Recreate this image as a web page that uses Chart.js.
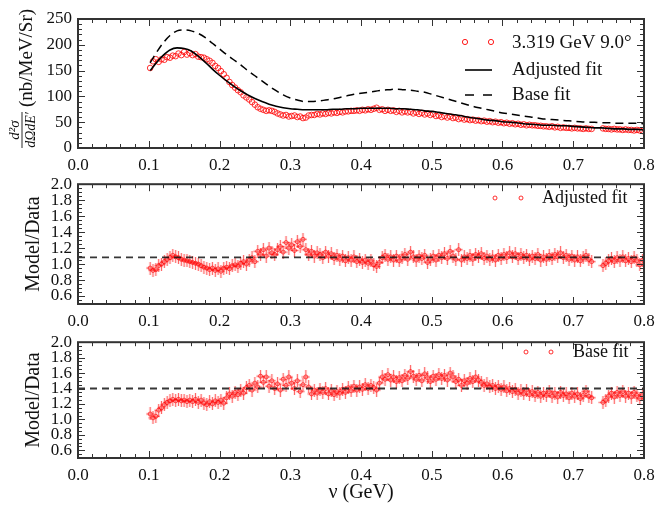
<!DOCTYPE html>
<html><head><meta charset="utf-8">
<script src="https://cdn.jsdelivr.net/npm/chart.js@4.4.1/dist/chart.umd.min.js"></script>
<style>
html,body{margin:0;padding:0;background:#fff;width:664px;height:517px;overflow:hidden;position:relative;}
canvas{position:absolute;left:0;}
</style></head><body>
<canvas id="c1" width="664" height="175" style="top:0px"></canvas>
<canvas id="c2" width="664" height="158" style="top:168px"></canvas>
<canvas id="c3" width="664" height="191" style="top:326px"></canvas>
<script>
// ---------- data ----------
const nu = [
0.102,0.106,0.110,0.114,0.118,0.122,0.126,0.130,0.134,0.138,
0.142,0.146,0.150,0.154,0.158,0.162,0.166,0.170,0.174,0.178,
0.182,0.186,0.190,0.194,0.198,0.202,0.206,0.210,0.214,0.218,
0.222,0.226,0.230,0.234,0.238,0.242,0.246,0.250,0.254,0.258,
0.262,0.266,0.270,0.274,0.278,0.282,0.286,0.290,0.294,0.298,
0.302,0.306,0.310,0.314,0.318,0.322,0.326,0.330,0.334,0.338,
0.342,0.346,0.350,0.354,0.358,0.362,0.366,0.370,0.374,0.378,
0.382,0.386,0.390,0.394,0.398,0.402,0.406,0.410,0.414,0.418,
0.422,0.426,0.430,0.434,0.438,0.442,0.446,0.450,0.454,0.458,
0.462,0.466,0.470,0.474,0.478,0.482,0.486,0.490,0.494,0.498,
0.502,0.506,0.510,0.514,0.518,0.522,0.526,0.530,0.534,0.538,
0.542,0.546,0.550,0.554,0.558,0.562,0.566,0.570,0.574,0.578,
0.582,0.586,0.590,0.594,0.598,0.602,0.606,0.610,0.614,0.618,
0.622,0.626,0.630,0.634,0.638,0.642,0.646,0.650,0.654,0.658,
0.662,0.666,0.670,0.674,0.678,0.682,0.686,0.690,0.694,0.698,
0.702,0.706,0.710,0.714,0.718,0.722,0.726,
0.742,0.746,0.750,0.754,0.758,0.762,0.766,0.770,0.774,0.778,
0.782,0.786,0.790,0.794,0.798];

const crossSection = [
155,168,172,167,172,171,176,175,179,178,
183,180,186,181,184,180,182,177,176,175,
172,169,165,159,155,149,143,136,128,122,
117,112,108,102,98,94,89,84,79,76,
74,72,73,72,70,67,65,63,64,61,
62,63,60,61,58,59,63,64,64,66,
65,67,66,68,67,69,68,70,69,71,
71,72,72,73,72,74,73,75,74,76,
78,74,75,72,74,72,73,70,72,69,
71,69,70,67,69,66,68,65,67,64,
66,62,63,60,62,59,61,58,59,56,
58,55,56,54,55,53,54,52,53,51,
52,50,51,49,50,48,49,47,48,46,
47,45,46,44,45,44,44,43,43,42,
42,41,42,40,41,39,40,39,39,38,
39,38,38,37,38,37,37,
38,37,37,36,37,36,36,35,36,35,
35,34,35,34,33];

const ratioAdjusted = [
0.95,0.92,0.93,0.98,1.00,1.03,1.06,1.08,1.11,1.09,
1.08,1.06,1.05,1.04,1.03,1.02,1.01,1.00,0.98,0.96,
0.95,0.93,0.95,0.92,0.94,0.91,0.95,0.96,0.94,0.98,
0.99,0.97,1.01,1.03,1.00,1.05,1.08,1.03,1.16,1.12,
1.18,1.10,1.20,1.14,1.12,1.18,1.22,1.15,1.27,1.20,
1.24,1.17,1.28,1.22,1.31,1.18,1.12,1.16,1.10,1.14,
1.12,1.08,1.15,1.10,1.13,1.07,1.11,1.06,1.10,1.04,
1.08,1.05,1.09,1.03,1.06,1.02,1.05,1.01,1.04,0.99,
0.97,1.02,1.08,1.11,1.06,1.09,1.05,1.10,1.04,1.08,
1.12,1.06,1.15,1.09,1.05,1.10,1.07,1.11,1.02,1.06,
1.10,1.05,1.11,1.08,1.13,1.07,1.16,1.10,1.06,1.18,
1.05,1.09,1.07,1.11,1.06,1.12,1.09,1.13,1.07,1.10,
1.06,1.09,1.05,1.11,1.07,1.12,1.08,1.14,1.09,1.13,
1.07,1.12,1.08,1.11,1.06,1.10,1.07,1.12,1.05,1.09,
1.06,1.11,1.07,1.12,1.09,1.14,1.08,1.11,1.06,1.10,
1.05,1.09,1.04,1.08,1.11,1.06,1.03,
0.98,1.01,1.04,1.07,1.03,1.08,1.05,1.09,1.04,1.07,
1.03,1.08,1.04,0.99,1.05];

const ratioBase = [
1.07,1.02,1.04,1.12,1.15,1.19,1.22,1.24,1.26,1.24,
1.26,1.24,1.25,1.23,1.25,1.23,1.26,1.22,1.25,1.21,
1.19,1.23,1.20,1.24,1.22,1.25,1.21,1.28,1.33,1.30,
1.35,1.32,1.38,1.34,1.41,1.44,1.38,1.47,1.42,1.56,
1.48,1.55,1.43,1.50,1.40,1.46,1.38,1.52,1.44,1.55,
1.47,1.40,1.50,1.36,1.45,1.55,1.42,1.33,1.38,1.34,
1.39,1.35,1.40,1.33,1.37,1.32,1.36,1.34,1.39,1.35,
1.41,1.37,1.43,1.38,1.42,1.39,1.45,1.40,1.44,1.41,
1.38,1.47,1.55,1.52,1.58,1.51,1.55,1.49,1.54,1.50,
1.57,1.53,1.62,1.56,1.52,1.57,1.50,1.59,1.54,1.49,
1.56,1.52,1.58,1.53,1.57,1.51,1.60,1.55,1.49,1.52,
1.44,1.50,1.47,1.53,1.49,1.55,1.51,1.48,1.44,1.46,
1.42,1.44,1.40,1.43,1.39,1.42,1.37,1.40,1.36,1.39,
1.34,1.37,1.33,1.38,1.32,1.36,1.31,1.35,1.30,1.34,
1.31,1.36,1.30,1.34,1.29,1.35,1.31,1.33,1.28,1.34,
1.30,1.33,1.27,1.31,1.36,1.30,1.28,
1.22,1.25,1.30,1.34,1.29,1.35,1.31,1.36,1.30,1.34,
1.29,1.35,1.31,1.27,1.32];

const fitNu = [
0.102,0.11,0.12,0.13,0.14,0.15,0.16,0.17,0.18,0.19,
0.20,0.21,0.22,0.23,0.24,0.25,0.26,0.27,0.28,0.29,
0.30,0.31,0.32,0.33,0.34,0.35,0.36,0.37,0.38,0.39,
0.40,0.41,0.42,0.43,0.44,0.45,0.46,0.47,0.48,0.49,
0.50,0.51,0.52,0.53,0.54,0.55,0.56,0.57,0.58,0.59,
0.60,0.61,0.62,0.63,0.64,0.65,0.66,0.67,0.68,0.69,
0.70,0.71,0.72,0.73,0.74,0.75,0.76,0.77,0.78,0.79,0.80];

const adjustedFit = [
150,164,179,190,194,193,188,178,166,153,
141,130,120,111,103,96,90,85,81,78,
76,75,74,74,74,74,75,75,76,76,
77,77,77,77,77,76,76,75,74,72,
71,69,67,65,63,60,58,56,54,53,
51,50,49,47,46,45,44,44,43,43,
42,41,40,39,39,38,37,37,36,36,35];

const baseFit = [
165,183,203,218,227,229,227,222,214,203,
192,181,171,161,150,140,130,120,111,103,
97,93,90,90,91,93,95,98,101,104,
106,108,110,112,113,114,113,112,110,108,
104,100,96,92,88,84,80,77,74,71,
68,66,64,62,60,58,56,55,54,53,
52,51,50,50,49,49,48,48,48,48,47];

const meanRatioAdjusted = 1.085;
const meanRatioBase = 1.40;

const xTicks = [0.0,0.1,0.2,0.3,0.4,0.5,0.6,0.7,0.8];
const yTicksTop = [0,50,100,150,200,250];
const yTicksRatio = [0.6,0.8,1.0,1.2,1.4,1.6,1.8,2.0];

const legendTop = ['3.319 GeV 9.0°','Adjusted fit','Base fit'];
const legendMid = 'Adjusted fit';
const legendBot = 'Base fit';

// ---------- styling ----------
const SERIF = "'Liberation Serif','DejaVu Serif','Times New Roman',serif";
Chart.defaults.font.family = SERIF;
Chart.defaults.color = '#111';
const RED = 'rgba(255,0,0,0.9)';

// error-bar style marker: taller vertical bar than horizontal one
const errMark = (() => {
  const c = document.createElement('canvas');
  c.width = 9; c.height = 13;
  const g = c.getContext('2d');
  g.strokeStyle = 'rgba(255,0,0,0.6)';
  g.lineWidth = 1.3;
  g.beginPath();
  g.moveTo(4.5, 0); g.lineTo(4.5, 13);
  g.moveTo(0.5, 6.5); g.lineTo(8.5, 6.5);
  g.stroke();
  return c;
})();

const framePlugin = {
  id: 'frame',
  afterDraw(chart, args, o) {
    const {ctx, chartArea: a, scales: {x, y}} = chart;
    ctx.save();
    ctx.strokeStyle = '#333';
    ctx.lineWidth = 1;
    for (let k = 0; k <= 40; k++) {
      const v = k * 0.02;
      const major = k % 5 === 0;
      const len = major ? 7 : 4;
      const px = Math.round(x.getPixelForValue(v)) + 0.5;
      ctx.beginPath();
      ctx.moveTo(px, a.bottom); ctx.lineTo(px, a.bottom - len);
      ctx.moveTo(px, a.top); ctx.lineTo(px, a.top + len);
      ctx.stroke();
    }
    const n = Math.round((o.yMax - o.yMin) / o.yMinor);
    for (let k = 0; k <= n; k++) {
      const v = o.yMin + k * o.yMinor;
      const r = (v - o.yMajorBase) / o.yMajor;
      const major = Math.abs(r - Math.round(r)) < 1e-6;
      const len = major ? 7 : 4;
      const py = Math.round(y.getPixelForValue(v)) + 0.5;
      ctx.beginPath();
      ctx.moveTo(a.left, py); ctx.lineTo(a.left + len, py);
      ctx.moveTo(a.right, py); ctx.lineTo(a.right - len, py);
      ctx.stroke();
    }
    ctx.lineWidth = 2;
    ctx.strokeStyle = '#333';
    ctx.strokeRect(a.left, a.top, a.right - a.left, a.bottom - a.top);
    ctx.restore();
    if (o.legend) o.legend(ctx);
  }
};

function xScale(height, withTitle) {
  return {
    type: 'linear', min: 0, max: 0.8,
    afterBuildTicks: ax => { ax.ticks = xTicks.map(v => ({value: v})); },
    afterFit: ax => { ax.height = height; },
    grid: {display: false, drawTicks: false},
    border: {display: false},
    ticks: {padding: 7, autoSkip: false, maxRotation: 0, minRotation: 0,
            font: {size: 17}, color: '#111', callback: v => Number(v).toFixed(1)},
    title: withTitle ? {display: true, text: 'ν (GeV)', font: {size: 20}, color: '#111',
                        padding: {top: 0, bottom: 12}} : {display: false}
  };
}

function yScale(min, max, ticks, fmt, title) {
  return {
    type: 'linear', min: min, max: max,
    afterBuildTicks: ax => { ax.ticks = ticks.map(v => ({value: v})); },
    afterFit: ax => { ax.width = 78; },
    grid: {display: false, drawTicks: false},
    border: {display: false},
    ticks: {padding: 6, autoSkip: false, font: {size: 17}, color: '#111', callback: fmt},
    title: title ? {display: true, text: title, font: {size: 20}, color: '#111',
                    padding: {top: 22, bottom: 0}} : {display: false}
  };
}

function pts(xs, ys) { return xs.map((x, i) => ({x: x, y: ys[i]})); }

// ---------- panel 1 ----------
new Chart(document.getElementById('c1'), {
  type: 'scatter',
  data: {datasets: [
    {label: legendTop[0], data: pts(nu, crossSection), pointStyle: 'circle', pointRadius: 2.8,
     borderColor: 'rgba(255,0,0,0.8)', backgroundColor: 'rgba(0,0,0,0)', pointBorderWidth: 1, order: 3},
    {type: 'line', label: legendTop[1], data: pts(fitNu, adjustedFit), borderColor: '#000',
     borderWidth: 1.6, pointRadius: 0, cubicInterpolationMode: 'monotone', fill: false, order: 1},
    {type: 'line', label: legendTop[2], data: pts(fitNu, baseFit), borderColor: '#000',
     borderWidth: 1.5, borderDash: [8, 5], pointRadius: 0, cubicInterpolationMode: 'monotone', fill: false, order: 2}
  ]},
  options: {
    responsive: false, animation: false, events: [],
    layout: {padding: {top: 19, right: 20, left: 0, bottom: 0}},
    plugins: {
      legend: {display: false}, tooltip: {enabled: false},
      frame: {yMin: 0, yMax: 250, yMinor: 10, yMajor: 50, yMajorBase: 0,
        legend: ctx => {
          ctx.save();
          ctx.strokeStyle = RED; ctx.lineWidth = 1;
          [465, 491].forEach(cx => { ctx.beginPath(); ctx.arc(cx, 42, 2.6, 0, Math.PI * 2); ctx.stroke(); });
          ctx.strokeStyle = '#000'; ctx.lineWidth = 1.6;
          ctx.beginPath(); ctx.moveTo(465, 70); ctx.lineTo(492, 70); ctx.stroke();
          ctx.lineWidth = 1.5;
          ctx.beginPath(); ctx.moveTo(465, 95); ctx.lineTo(474, 95); ctx.moveTo(483, 95); ctx.lineTo(492, 95); ctx.stroke();
          ctx.fillStyle = '#111'; ctx.font = '19px ' + SERIF; ctx.textBaseline = 'middle'; ctx.textAlign = 'left';
          ctx.fillText(legendTop[0], 512, 43);
          ctx.fillText(legendTop[1], 512, 70);
          ctx.fillText(legendTop[2], 512, 95);
          // y-axis title
          ctx.translate(27, 58); ctx.rotate(-Math.PI / 2);
          ctx.textAlign = 'center'; ctx.font = '19px ' + SERIF;
          ctx.fillText('(nb/MeV/Sr)', 0, 0);
          ctx.setTransform(1, 0, 0, 1, 0, 0);
          ctx.translate(22, 130); ctx.rotate(-Math.PI / 2);
          ctx.font = 'italic 15px ' + SERIF; ctx.textAlign = 'center';
          ctx.textBaseline = 'alphabetic';
          ctx.fillText('d²σ', 0, -3);
          ctx.textBaseline = 'top';
          ctx.font = 'italic 14px ' + SERIF;
          ctx.fillText('dΩdE′', 0, 2);
          ctx.strokeStyle = '#111'; ctx.lineWidth = 0.9;
          ctx.beginPath(); ctx.moveTo(-18, 0); ctx.lineTo(18, 0); ctx.stroke();
          ctx.restore();
        }}
    },
    scales: {
      x: xScale(27, false),
      y: yScale(0, 250, yTicksTop, v => String(v), null)
    }
  },
  plugins: [framePlugin]
});

// ---------- ratio panels ----------
function ratioChart(id, ratio, mean, padTop, xHeight, withTitle, legendText, legendPos) {
  return new Chart(document.getElementById(id), {
    type: 'scatter',
    data: {datasets: [
      {label: 'mean', type: 'line', data: [{x: 0, y: mean}, {x: 0.8, y: mean}], borderColor: 'rgba(20,20,20,0.85)',
       borderWidth: 1.8, borderDash: [7, 5], pointRadius: 0, fill: false, order: 0},
      {label: 'err', data: pts(nu, ratio), pointStyle: errMark, pointRadius: 5, order: 2},
      {label: legendText, data: pts(nu, ratio), pointStyle: 'circle', pointRadius: 2,
       borderColor: 'rgba(255,0,0,0.8)', backgroundColor: 'rgba(0,0,0,0)', pointBorderWidth: 0.8, order: 1}
    ]},
    options: {
      responsive: false, animation: false, events: [],
      layout: {padding: {top: padTop, right: 20, left: 0, bottom: 0}},
      plugins: {
        legend: {display: false}, tooltip: {enabled: false},
        frame: {yMin: 0.5, yMax: 2.0, yMinor: 0.05, yMajor: 0.2, yMajorBase: 0.6,
          legend: ctx => {
            ctx.save();
            ctx.strokeStyle = RED; ctx.lineWidth = 0.9;
            [legendPos[0], legendPos[1]].forEach(cx => { ctx.beginPath(); ctx.arc(cx, legendPos[3], 2, 0, Math.PI * 2); ctx.stroke(); });
            ctx.fillStyle = '#111'; ctx.font = '18px ' + SERIF; ctx.textBaseline = 'middle'; ctx.textAlign = 'left';
            ctx.fillText(legendText, legendPos[2], legendPos[3]);
            ctx.restore();
          }}
      },
      scales: {
        x: xScale(xHeight, withTitle),
        y: yScale(0.5, 2.0, yTicksRatio, v => Number(v).toFixed(1), 'Model/Data')
      }
    },
    plugins: [framePlugin]
  });
}

ratioChart('c2', ratioAdjusted, meanRatioAdjusted, 7, 22, false, legendMid, [495, 521, 542, 30]);
ratioChart('c3', ratioBase, meanRatioBase, 3, 59, true, legendBot, [526, 551, 573, 26]);
</script>
</body></html>
